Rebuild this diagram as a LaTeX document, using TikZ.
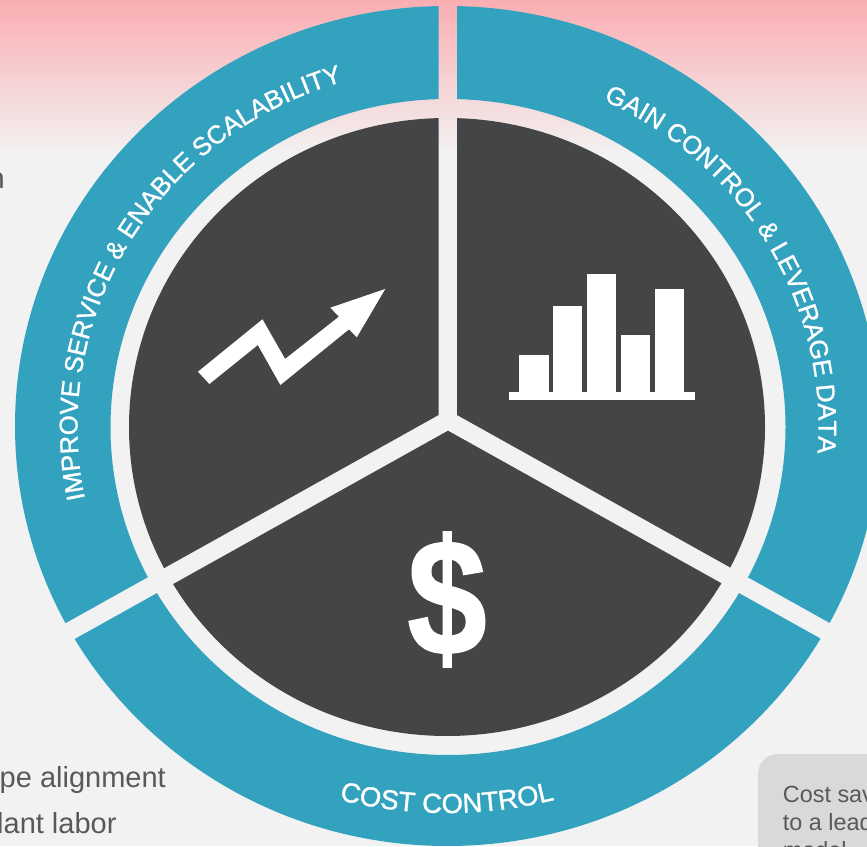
\documentclass[tikz,border=0pt]{standalone}
\usepackage{fontspec}
\usepackage{graphicx}
\setmainfont{Liberation Sans}
\newfontfamily\ringfam[FakeBold=1.2]{Liberation Sans}
\newfontfamily\dollarfam[UprightFont={* Bold},FakeBold=1.2]{Liberation Sans}
\usetikzlibrary{decorations.text}
\definecolor{bgc}{HTML}{F2F2F2}
\definecolor{pinkc}{HTML}{FAAEB2}
\definecolor{tealc}{HTML}{32A2BF}
\definecolor{darkc}{HTML}{444547}
\definecolor{boxc}{HTML}{D9D9D9}
\definecolor{txtc}{HTML}{595959}
\newcommand{\wedgeL}{(438.6,900) -- (438.6,431) -- (-100,130.5) -- (-100,900) -- cycle}
\newcommand{\wedgeR}{(457,900) -- (457,431) -- (1000,128) -- (1000,900) -- cycle}
\newcommand{\wedgeB}{(448,415.3) -- (1000,107.3) -- (1000,-60) -- (-100,-60) -- (-100,109.5) -- cycle}
\newcommand{\sectorfill}[1]{%
  \begin{scope}
    \clip #1;
    \fill[tealc,even odd rule] (447.5,420) ellipse [x radius=432.5,y radius=420]
      (448,419) ellipse [x radius=337.5,y radius=328];
    \fill[darkc] (447,419) ellipse [x radius=318,y radius=309];
  \end{scope}}
\tikzset{
  x=1pt,y=1pt,
  ringtext/.style={decorate,decoration={text along path,text align=center,
    text color=white,text={#1}}},
  sidetext/.style={text=txtc,font=\fontsize{29}{29}\selectfont,inner sep=0pt,anchor=base east},
  notetext/.style={text=txtc,font=\fontsize{23.4}{23.4}\selectfont,inner sep=0pt,anchor=base west},
  iconfill/.style={fill=white,draw=none}
}
\newcommand{\rf}{\ringfam\fontsize{25.6}{25.6}\selectfont}
\newcommand{\cf}{\ringfam\fontsize{27.4}{27.4}\selectfont}
\begin{document}
\begin{tikzpicture}
\useasboundingbox (0,0) rectangle (867,846);
\clip (0,0) rectangle (867,846);
\fill[bgc] (0,0) rectangle (867,846);
\shade[top color=pinkc,bottom color=bgc] (0,691) rectangle (867,846);
% note box
\fill[boxc,rounded corners=20pt] (758,-40) rectangle (920,92);
\node[notetext] (note1) at (782.7,43.3) {Cost sav};
\node[notetext] (note2) at (782.7,15.3) {to a lead};
\node[notetext] (note3) at (782.7,-12.7) {model};
% side texts
\node[sidetext] (side0) at (5,657) {n};
\node[sidetext] (side1) at (166,59) {pe alignment};
\node[sidetext] (side2) at (116.7,13) {lant labor};
% sectors
\sectorfill{\wedgeL}
\sectorfill{\wedgeR}
\sectorfill{\wedgeB}
% ring labels
\path[ringtext={|\rf|IMPROVE SERVICE {\&} ENABLE SCALABILITY}]
  (447.5,419) ++(192:370 and 360) arc[start angle=192,end angle=106,x radius=370,y radius=360];
\path[ringtext={|\rf|GAIN CONTROL {\&} LEVERAGE DATA}]
  (447.5,419) ++(66:371 and 360) arc[start angle=66,end angle=-5,x radius=371,y radius=360];
\path[ringtext={|\cf|COST CONTROL}]
  (447,480) ++(248:447) arc[start angle=248,end angle=292,radius=447];
% growth arrow
\fill[iconfill] (198,474.3) -- (209.4,462) -- (257.8,501) -- (280.4,461) -- (349,516.7)
  -- (356.8,508.7) -- (385.2,557) -- (330.4,538.3) -- (338.9,529.3) -- (285.1,487)
  -- (262.5,526.7) -- cycle;
% bar chart
\fill[iconfill] (508.6,446) rectangle (694.9,454);
\fill[iconfill] (519.4,450) rectangle (548.8,491.3);
\fill[iconfill] (553.2,450) rectangle (582.3,539.7);
\fill[iconfill] (587,450) rectangle (616.4,572);
\fill[iconfill] (621.2,450) rectangle (650,511);
\fill[iconfill] (654.6,450) rectangle (684,557);
% dollar
\node[text=white,inner sep=0pt,font=\dollarfam\fontsize{160}{160}\selectfont] (dollar) at (447,246.5) {\scalebox{.89}[1.03]{\$}};
\end{tikzpicture}
\end{document}
